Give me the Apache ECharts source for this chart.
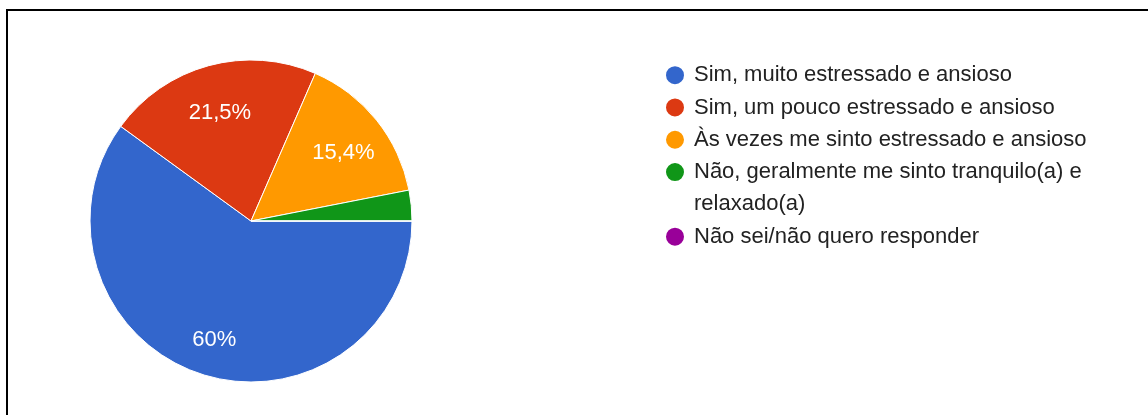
<!DOCTYPE html>
<html>
<head>
<meta charset="utf-8">
<script src="https://cdn.jsdelivr.net/npm/echarts@6/dist/echarts.min.js"></script>
<style>
html, body { margin: 0; padding: 0; background: #fff; }
.frame {
    position: absolute;
    left: 6px; top: 9px; right: 0; bottom: 0;
    border-top: 2px solid #000;
    border-left: 2px solid #000;
}
.mainChart {
    position: absolute;
    left: 0; top: 0;
    width: 1148px;
    height: 415px;
}
</style>
</head>
<body>
<div class="frame"></div>
<div id="chart" class="mainChart"></div>
<script>
// answer options (legend order)
var categories = [
    'Sim, muito estressado e ansioso',
    'Sim, um pouco estressado e ansioso',
    'Às vezes me sinto estressado e ansioso',
    'Não, geralmente me sinto tranquilo(a) e relaxado(a)',
    'Não sei/não quero responder'
];
// number of answers per option
var counts = [39, 14, 10, 2, 0];
var colors = ['#3366cc', '#dc3912', '#ff9900', '#109618', '#990099'];

var pieData = categories.map(function (name, i) {
    return { name: name, value: counts[i] };
});

var font = 'Liberation Sans, Arial, sans-serif';
var rowH = 32.3;
var legendText = { fontFamily: font, fontSize: 22, lineHeight: rowH, color: '#222' };
var wrapAt = ' relaxado(a)';

function legendBase(top, names) {
    return {
        orient: 'vertical',
        left: 664,
        top: top,
        padding: 0,
        itemGap: 0,
        itemWidth: 28,
        itemHeight: 20,
        icon: 'circle',
        selectedMode: false,
        // long option wraps: first line here, the rest is drawn just below
        formatter: function (name) { return name.replace(wrapAt, ''); },
        textStyle: legendText,
        data: names
    };
}

var chart = echarts.init(document.getElementById('chart'));
chart.setOption({
    animation: false,
    color: colors,
    legend: [
        legendBase(59, categories.slice(0, 4)),
        legendBase(59 + rowH * 5, categories.slice(4))
    ],
    graphic: [{
        type: 'text',
        x: 694,
        y: 59 + rowH * 4.5,
        style: {
            text: wrapAt.trim(),
            font: '22px ' + font,
            fill: '#222',
            verticalAlign: 'middle'
        }
    }],
    series: [
        {
            name: 'total',
            type: 'pie',
            center: [251, 221],
            radius: [0, 161],
            startAngle: 0,
            clockwise: true,
            label: { show: false },
            labelLine: { show: false },
            emphasis: { disabled: true },
            itemStyle: { borderColor: '#fff', borderWidth: 1 },
            data: pieData
        },
        {
            // transparent ring only used to place the percent labels
            name: 'labels',
            type: 'pie',
            center: [251, 221],
            radius: [70, 161],
            startAngle: 0,
            clockwise: true,
            silent: true,
            percentPrecision: 1,
            emphasis: { disabled: true },
            itemStyle: { color: 'rgba(0,0,0,0)' },
            labelLine: { show: false },
            label: {
                show: true,
                position: 'inside',
                offset: [0, 6],
                color: '#fff',
                fontFamily: font,
                fontSize: 22,
                formatter: function (p) {
                    if (p.percent < 5) return '';
                    return String(p.percent).replace('.', ',') + '%';
                }
            },
            data: pieData
        }
    ]
});
</script>
</body>
</html>
